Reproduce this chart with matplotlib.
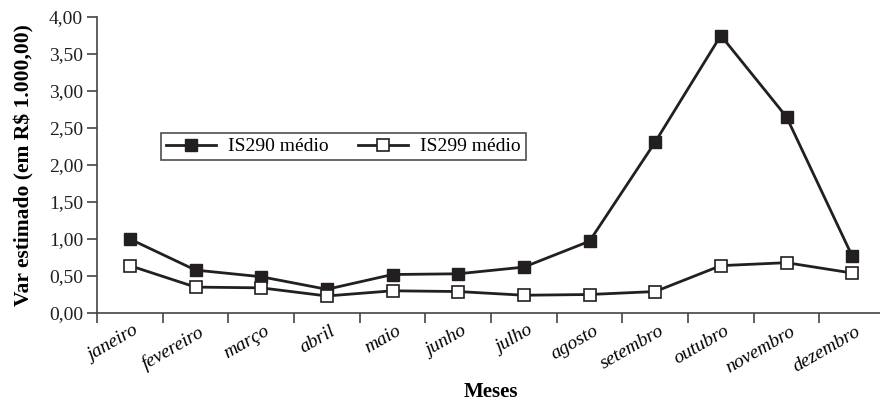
import matplotlib.pyplot as plt
import numpy as np
from matplotlib.transforms import ScaledTranslation

plt.rcParams['font.family'] = ['Liberation Serif', 'DejaVu Serif']

meses = ['janeiro', 'fevereiro', 'março', 'abril', 'maio', 'junho',
         'julho', 'agosto', 'setembro', 'outubro', 'novembro', 'dezembro']
is290 = [1.00, 0.58, 0.49, 0.32, 0.52, 0.53, 0.62, 0.97, 2.31, 3.75, 2.65, 0.77]
is299 = [0.64, 0.35, 0.34, 0.23, 0.30, 0.29, 0.24, 0.25, 0.29, 0.64, 0.68, 0.54]
yticks = [0, 0.5, 1.0, 1.5, 2.0, 2.5, 3.0, 3.5, 4.0]

cor = '#231f20'

fig = plt.figure(figsize=(8.8, 4), dpi=100)
ax = fig.add_axes([97 / 880, 87 / 400, 788 / 880, 296 / 400])

x = np.arange(len(meses))
ax.plot(x, is290, color=cor, lw=2, marker='s', ms=9, mfc=cor, mec=cor,
        label='IS290 médio', clip_on=False)
ax.plot(x, is299, color=cor, lw=2, marker='s', ms=9, mfc='white', mec=cor,
        mew=1.2, label='IS299 médio', clip_on=False)

ax.set_xlim(-0.5, len(meses) - 0.5)
ax.set_ylim(0, 4)
ax.set_yticks(yticks)
ax.set_yticklabels([f'{v:.2f}'.replace('.', ',') for v in yticks])

# ticks nas divisas das categorias, rótulos no centro
ax.set_xticks(np.arange(len(meses) + 1) - 0.5)
ax.set_xticklabels([])
ax.set_xticks(x, minor=True)
ax.set_xticklabels(meses, minor=True, rotation=30, ha='right', va='top',
                   rotation_mode='anchor', fontstyle='italic', fontsize=14)
ax.tick_params(axis='x', which='minor', length=0, pad=7)
off = ScaledTranslation(3 / 100, 0, fig.dpi_scale_trans)
for lab in ax.get_xticklabels(minor=True):
    lab.set_transform(lab.get_transform() + off)

ax.tick_params(axis='x', which='major', direction='out', length=7, width=1.2, color='#444444')
ax.tick_params(axis='y', direction='out', length=7, width=1.2, color='#444444',
               labelsize=14, labelcolor=cor, pad=3)

for s in ['top', 'right']:
    ax.spines[s].set_visible(False)
for s in ['left', 'bottom']:
    ax.spines[s].set_color('#444444')
    ax.spines[s].set_linewidth(1.2)

ax.set_ylabel('Var estimado (em R$ 1.000,00)', fontsize=15.5, fontweight='bold', labelpad=10)
ax.set_xlabel('Meses', fontsize=15, fontweight='bold', labelpad=4)

leg = ax.legend(loc='upper left', bbox_to_anchor=(64 / 788, 1 - 116 / 296), ncol=2,
                frameon=True, fancybox=False, fontsize=14, handlelength=2.6,
                columnspacing=1.5, borderpad=0.25, handletextpad=0.6, borderaxespad=0)
leg.get_frame().set_edgecolor(cor)
leg.get_frame().set_linewidth(1.2)

fig.savefig('out.png', dpi=100)
